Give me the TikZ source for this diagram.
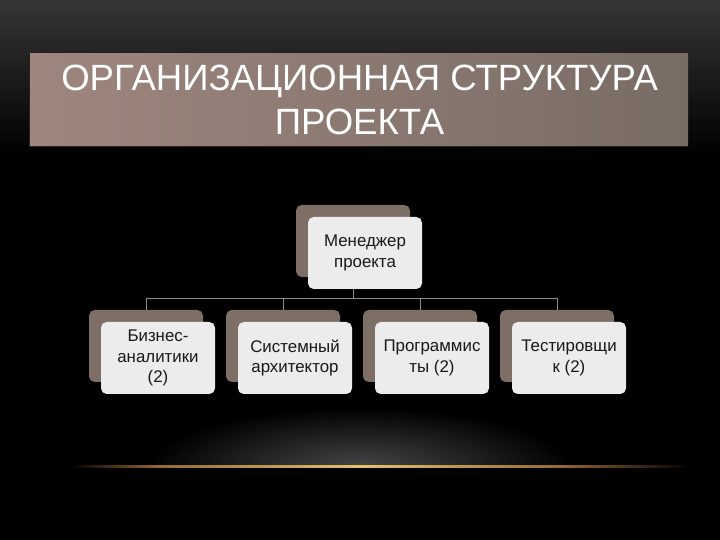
\documentclass[tikz,border=0pt]{standalone}
\usepackage{fontspec}
\setmainfont{Liberation Sans}
\usetikzlibrary{positioning}

\definecolor{bgtop}{RGB}{54,54,54}
\definecolor{bgbot}{RGB}{0,0,0}
\definecolor{bar1}{RGB}{158,134,126}
\definecolor{bar2}{RGB}{120,108,101}
\definecolor{barline}{RGB}{38,34,30}
\definecolor{boxback}{RGB}{125,110,102}
\definecolor{boxfront}{RGB}{236,236,236}
\definecolor{linkgray}{RGB}{140,140,140}
\definecolor{glowgray}{RGB}{70,70,70}
\definecolor{glowgold}{RGB}{228,195,105}
\definecolor{glowamber}{RGB}{150,105,50}

\begin{document}
\begin{tikzpicture}[
  back/.style={fill=boxback, rounded corners=4pt, minimum width=2.85cm, minimum height=1.8cm},
  front/.style={fill=boxfront, rounded corners=4pt, minimum width=2.85cm, minimum height=1.8cm,
    align=center, text=black!90, font=\fontsize{12}{14.5}\selectfont},
  link/.style={draw=linkgray, line width=0.6pt}]
  % background
  \useasboundingbox (0,0) rectangle (18,13.5);
  \fill[black] (0,0) rectangle (18,13.5);
  \shade[top color=bgtop, bottom color=bgbot] (0,9.6) rectangle (18,13.5);
  % glow
  \begin{scope}
    \clip (3,1.82) rectangle (15,4);
    \shade[inner color=glowgray, outer color=black] (9,1.82) ellipse (5.3cm and 1.5cm);
  \end{scope}
  \shade[left color=black, right color=glowamber] (1.75,1.8) rectangle (4,1.86);
  \shade[left color=glowamber, right color=glowgold] (4,1.8) rectangle (9,1.86);
  \shade[left color=glowgold, right color=glowamber] (9,1.8) rectangle (14,1.86);
  \shade[left color=glowamber, right color=black] (14,1.8) rectangle (17.25,1.86);
  % title
  \fill[barline] (0.72,9.83) rectangle (17.2,12.2);
  \shade[left color=bar1, right color=bar2] (0.75,9.85) rectangle (17.2,12.15);
  \node[text=white, align=center, font=\fontsize{26}{31}\selectfont] (title) at (8.99,11.0)
    {ОРГАНИЗАЦИОННАЯ СТРУКТУРА\\ПРОЕКТА};
  % manager
  \node[back] (mgr) at (8.825,7.475) {};
  \node[front] (mgrtxt) at ([xshift=0.3cm,yshift=-0.3cm]mgr.center) {Менеджер\\проекта};
  % analysts
  \node[back] (ba) at (3.65,4.85) {};
  \node[front] (batxt) at ([xshift=0.3cm,yshift=-0.3cm]ba.center) {Бизнес-\\аналитики\\(2)};
  % architect
  \node[back] (arch) at (7.075,4.85) {};
  \node[front] (archtxt) at ([xshift=0.3cm,yshift=-0.3cm]arch.center) {Системный\\архитектор};
  % programmers
  \node[back] (prog) at (10.5,4.85) {};
  \node[front] (progtxt) at ([xshift=0.3cm,yshift=-0.3cm]prog.center) {Программис\\ты (2)};
  % testers
  \node[back] (test) at (13.925,4.85) {};
  \node[front] (testtxt) at ([xshift=0.3cm,yshift=-0.3cm]test.center) {Тестировщи\\к (2)};
  % connectors
  \coordinate (bus) at (8.825,6.05);
  \draw[link] (mgr.south |- mgrtxt.south) -- (bus);
  \draw[link] (bus) -| (ba.north);
  \draw[link] (bus) -| (arch.north);
  \draw[link] (bus) -| (prog.north);
  \draw[link] (bus) -| (test.north);
\end{tikzpicture}
\end{document}
